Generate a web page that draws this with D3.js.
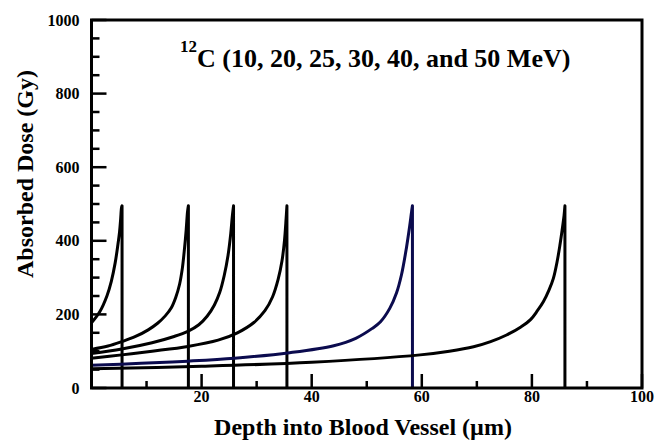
<!DOCTYPE html>
<html lang="en">
<head>
	<meta charset="UTF-8">
	<title>Absorbed dose</title>
	<script src="https://cdn.jsdelivr.net/npm/d3@7"></script>
	<style>
		body { margin: 0; background: #fff; }
		text { font-family: "Liberation Serif", "Times New Roman", serif; font-weight: bold; fill: #000; }
	</style>
</head>
<body>
	<div id="container"></div>
	<script>
		// values: depth (um) and dose (Gy) for each beam energy
		var energies = [10, 20, 25, 30, 40, 50];
		var colors = ["#000", "#000", "#000", "#000", "#0b0b4e", "#000"];

		var depth10 = [0, 1.5, 2.8, 3.6, 4.3, 4.8, 5.1, 5.3, 5.45, 5.55];
		var dose10  = [177, 207, 250, 290, 340, 390, 425, 460, 490, 495];

		var depth20 = [0, 3, 5.5, 8, 10.3, 12, 13.4, 14.5, 15.3, 16, 16.5, 16.9, 17.2, 17.45, 17.6];
		var dose20  = [105, 114, 126, 140, 158, 176, 196, 218, 246, 282, 325, 380, 430, 480, 495];

		var depth25 = [0, 5.5, 11, 15, 17.5, 19.5, 21, 22.3, 23.3, 24.1, 24.8, 25.3, 25.6, 25.8];
		var dose25  = [94, 106, 123, 140, 154, 172, 195, 225, 260, 305, 360, 420, 470, 495];

		var depth30 = [0, 5.5, 11, 17.5, 23, 26.5, 29.5, 31.5, 32.9, 33.9, 34.6, 35.05, 35.35, 35.5];
		var dose30  = [81, 90, 100, 113, 130, 150, 178, 210, 248, 295, 345, 400, 460, 495];

		var depth40 = [0, 9, 17.5, 26, 36, 44, 48, 51, 52.5, 54.2, 55.4, 56.3, 57.2, 57.8, 58.15, 58.3];
		var dose40  = [62, 67, 73, 81, 96, 115, 135, 162, 180, 217, 258, 307, 380, 440, 480, 495];

		var depth50 = [0, 20, 40, 59.7, 65, 69.4, 72.5, 75.4, 78, 79.7, 81, 82.1, 83.1, 83.9, 84.6, 85.1, 85.5, 85.85, 86];
		var dose50  = [52, 59, 70, 90, 100, 112, 126, 144, 166, 185, 210, 235, 266, 298, 345, 389, 430, 470, 495];

		var depths = [depth10, depth20, depth25, depth30, depth40, depth50];
		var doses = [dose10, dose20, dose25, dose30, dose40, dose50];

		var xMajor = [0, 20, 40, 60, 80, 100];
		var xMinor = [10, 30, 50, 70, 90];
		var yMajor = [0, 200, 400, 600, 800, 1000];
		var yMinor = [50, 100, 150, 250, 300, 350, 450, 500, 550, 650, 700, 750, 850, 900, 950];

		var width = 656;
		var height = 445;
		var plotL = 91.5, plotR = 642, plotT = 20, plotB = 388;

		var svg = d3.select("#container").append("svg")
				.attr("width", width)
				.attr("height", height);

		var x = d3.scaleLinear().domain([0, 100]).range([plotL, plotR]);
		var y = d3.scaleLinear().domain([0, 1000]).range([plotB, plotT]);

		var line = d3.line()
				.x(d => x(d[0]))
				.y(d => y(d[1]))
				.curve(d3.curveCatmullRom.alpha(0.5));

		// each curve rises to its Bragg peak then drops straight to zero
		depths.forEach((dep, k) => {
			var pts = dep.map((d, i) => [d, doses[k][i]]);
			var last = pts[pts.length - 1];
			svg.append("path")
				.attr("d", line(pts) + "L" + x(last[0]) + "," + y(0))
				.attr("fill", "none")
				.attr("stroke", colors[k])
				.attr("stroke-width", 3)
				.attr("stroke-linejoin", "round");
		});

		// ticks, pointing inwards
		var xTicks = xMajor.map(v => [v, 14]).concat(xMinor.map(v => [v, 7]));
		svg.selectAll(".xtick").data(xTicks)
			.enter().append("line")
				.attr("x1", d => x(d[0]))
				.attr("x2", d => x(d[0]))
				.attr("y1", plotB)
				.attr("y2", d => plotB - d[1])
				.style("stroke", "#000")
				.style("stroke-width", 2.5);

		var yTicks = yMajor.map(v => [v, 15]).concat(yMinor.map(v => [v, 8]));
		svg.selectAll(".ytick").data(yTicks)
			.enter().append("line")
				.attr("y1", d => y(d[0]))
				.attr("y2", d => y(d[0]))
				.attr("x1", plotL)
				.attr("x2", d => plotL + d[1])
				.style("stroke", "#000")
				.style("stroke-width", 2.5);

		svg.append("rect")
			.attr("x", plotL).attr("y", plotT)
			.attr("width", plotR - plotL).attr("height", plotB - plotT)
			.attr("fill", "none")
			.attr("stroke", "#000")
			.attr("stroke-width", 3);

		svg.selectAll(".xlab").data(xMajor.slice(1))
			.enter().append("text")
				.attr("x", d => x(d))
				.attr("y", plotB + 14)
				.attr("text-anchor", "middle")
				.style("font-size", "16px")
				.text(d => d);

		svg.selectAll(".ylab").data(yMajor)
			.enter().append("text")
				.attr("x", plotL - 12)
				.attr("y", d => y(d) + 5.5)
				.attr("text-anchor", "end")
				.style("font-size", "16px")
				.text(d => d);

		svg.append("text")
			.attr("x", 363)
			.attr("y", 435)
			.attr("text-anchor", "middle")
			.style("font-size", "24px")
			.text("Depth into Blood Vessel (\u00b5m)");

		svg.append("text")
			.attr("transform", "translate(33,174) rotate(-90)")
			.attr("text-anchor", "middle")
			.style("font-size", "24px")
			.text("Absorbed Dose (Gy)");

		var title = svg.append("text")
			.attr("x", 180)
			.attr("y", 67)
			.style("font-size", "26px");
		title.append("tspan")
			.attr("dy", -15)
			.style("font-size", "17px")
			.text("12");
		title.append("tspan")
			.attr("dy", 15)
			.text("C (" + energies.slice(0, 5).join(", ") + ", and " + energies[5] + " MeV)");
	</script>
</body>
</html>
